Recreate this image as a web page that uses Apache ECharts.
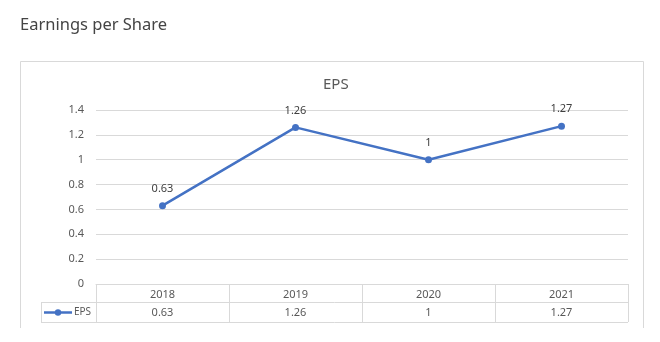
<!DOCTYPE html>
<html>
<head>
<meta charset="utf-8">
<script src="https://cdn.jsdelivr.net/npm/echarts@6/dist/echarts.min.js"></script>
<style>
  html, body { margin: 0; padding: 0; background: #fff; }
  #chart { width: 660px; height: 342px; }
</style>
</head>
<body>
<div id="chart"></div>
<script>
// Earnings per share by fiscal year
const years = ['2018', '2019', '2020', '2021'];
const eps = [0.63, 1.26, 1, 1.27];
const seriesName = 'EPS';
const yTicks = [0, 0.2, 0.4, 0.6, 0.8, 1, 1.2, 1.4];

const lineColor = '#4472C4';
const gridColor = '#d9d9d9';
const textColor = '#595959';
const font = '"Noto Sans", "Liberation Sans", sans-serif';

const chart = echarts.init(document.getElementById('chart'), null, { renderer: 'canvas' });

const gridBox = { left: 96, right: 32, top: 110, bottom: 58 };

chart.setOption({
  animation: false,
  backgroundColor: '#fff',
  textStyle: { fontFamily: font },
  title: [
    {
      text: 'Earnings per Share', left: 15, top: 12,
      textStyle: { fontSize: 16.5, fontWeight: 'normal', color: '#444', fontFamily: font }
    },
    {
      text: seriesName, left: 318, top: 72,
      textStyle: { fontSize: 15, fontWeight: 'normal', color: textColor, fontFamily: font }
    }
  ],
  grid: gridBox,
  xAxis: {
    type: 'category',
    data: years,
    boundaryGap: true,
    axisLine: { show: true, lineStyle: { color: gridColor, width: 1 } },
    axisTick: { show: false },
    axisLabel: { color: textColor, fontSize: 11, margin: 5, fontFamily: font }
  },
  yAxis: {
    type: 'value',
    min: yTicks[0],
    max: yTicks[yTicks.length - 1],
    interval: 0.2,
    axisLine: { show: false },
    axisTick: { show: false },
    splitLine: { lineStyle: { color: gridColor, width: 1 } },
    axisLabel: { color: textColor, fontSize: 11, margin: 12, fontFamily: font }
  },
  series: [{
    name: seriesName,
    type: 'line',
    data: eps,
    symbol: 'circle',
    symbolSize: 7,
    lineStyle: { color: lineColor, width: 2.5 },
    itemStyle: { color: lineColor },
    label: {
      show: true, position: 'top', distance: 8,
      color: '#404040', fontSize: 11, fontFamily: font
    }
  }]
});

// Data table under the plot, plus the chart-area frame
function drawTable() {
  const els = [];
  const x0 = gridBox.left;
  const x1 = 660 - gridBox.right;
  const yTop = 342 - gridBox.bottom;
  const rowSep = yTop + 18;
  const yBot = rowSep + 20;
  const legendLeft = 41;
  const lineSt = { stroke: gridColor, lineWidth: 1 };

  // frame around the chart area (open at the bottom)
  els.push({ type: 'polyline', shape: { points: [[20.5, 328], [20.5, 61.5], [643.5, 61.5], [643.5, 328]] }, style: { stroke: gridColor, lineWidth: 1, fill: null }, silent: true });

  // horizontal rules
  els.push({ type: 'line', shape: { x1: legendLeft, y1: rowSep + 0.5, x2: x1, y2: rowSep + 0.5 }, style: lineSt, silent: true });
  els.push({ type: 'line', shape: { x1: legendLeft, y1: yBot + 0.5, x2: x1, y2: yBot + 0.5 }, style: lineSt, silent: true });
  // legend cell left edge
  els.push({ type: 'line', shape: { x1: legendLeft + 0.5, y1: rowSep, x2: legendLeft + 0.5, y2: yBot }, style: lineSt, silent: true });

  // column boundaries between categories
  const step = (x1 - x0) / years.length;
  for (let i = 0; i <= years.length; i++) {
    const x = Math.round(x0 + i * step) + 0.5;
    els.push({ type: 'line', shape: { x1: x, y1: yTop, x2: x, y2: yBot }, style: lineSt, silent: true });
  }

  // values row, positioned by the category axis
  eps.forEach((v, i) => {
    const px = chart.convertToPixel({ xAxisIndex: 0 }, years[i]);
    els.push({
      type: 'text', x: px, y: (rowSep + yBot) / 2 + 0.5,
      style: { text: String(v), fill: textColor, font: '11px ' + font, textAlign: 'center', textVerticalAlign: 'middle' },
      silent: true
    });
  });

  // legend key
  const ky = (rowSep + yBot) / 2 + 0.5;
  els.push({ type: 'line', shape: { x1: 44, y1: ky, x2: 72, y2: ky }, style: { stroke: lineColor, lineWidth: 2.5 }, silent: true });
  els.push({ type: 'circle', shape: { cx: 58, cy: ky, r: 3.2 }, style: { fill: lineColor }, silent: true });
  els.push({
    type: 'text', x: 74, y: ky,
    style: { text: seriesName, fill: textColor, font: '10px ' + font, textAlign: 'left', textVerticalAlign: 'middle' },
    silent: true
  });

  chart.setOption({ graphic: els });
}
drawTable();
</script>
</body>
</html>
